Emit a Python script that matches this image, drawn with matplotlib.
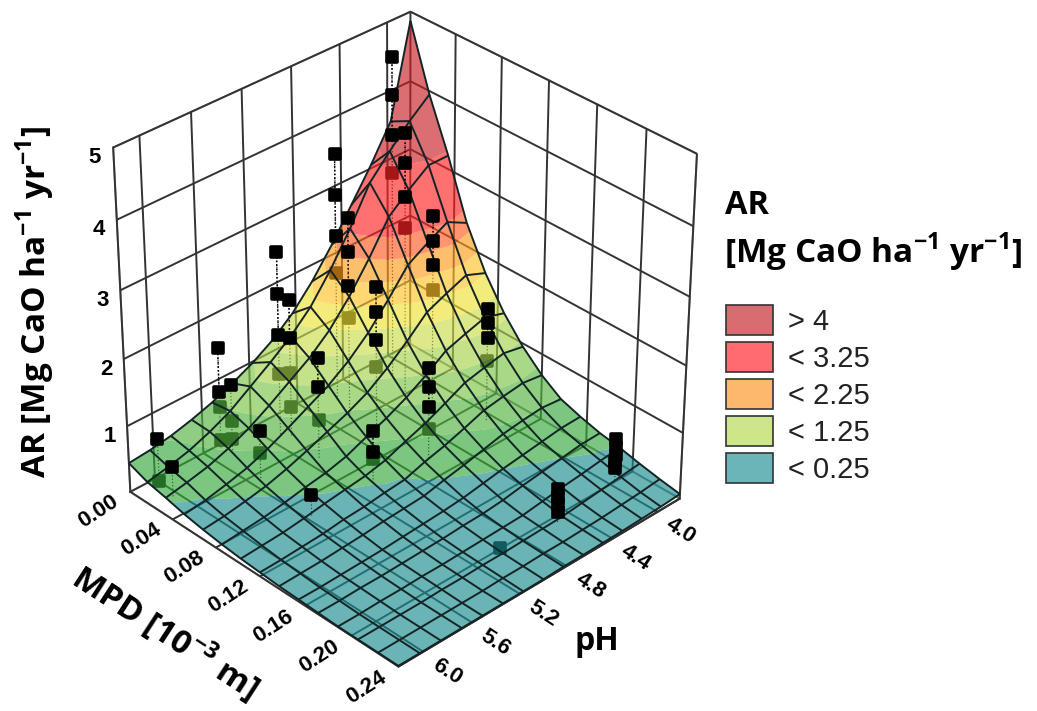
import numpy as np
import matplotlib
matplotlib.use('Agg')
import matplotlib.pyplot as plt
from matplotlib.markers import MarkerStyle
from matplotlib.patches import Patch, PathPatch
from matplotlib.path import Path
from matplotlib.transforms import Affine2D
from mpl_toolkits.mplot3d import proj3d

plt.rcParams['mathtext.fontset']='custom'
plt.rcParams['mathtext.bf']='Open Sans:bold'
plt.rcParams['mathtext.rm']='Open Sans:bold'

mpd_ticks=[0.00,0.04,0.08,0.12,0.16,0.20,0.24]
ph_ticks=[4.0,4.4,4.8,5.2,5.6,6.0]
ar_ticks=[1,2,3,4,5]
legend_labels=['> 4','< 3.25','< 2.25','< 1.25','< 0.25']
legend_colors=['#D96C70','#FF6B6E','#FDB96B','#CDE68A','#6BB5B8']
band_edges=[-1,.25,.5,.75,1.0,1.25,1.5,1.75,2.0,2.25,2.5,3.25,9]
band_colors=['#6AB5B7','#7CC87F','#8FCF82','#A9D987','#C5E28A','#DDE98A','#F4EC7D','#FFD873','#FDBF6C','#FF9570','#FF7070','#DC6E72']

surface_mpd=np.linspace(0,.24,15)
surface_ph=np.linspace(3.8,6.2,15)
surface_ar=np.array([
[4.87,3.95,3.2,2.35,1.75,1.3,.95,.68,.48,.38,.30,.25,.18,.12,.07],
[3.55,3.70,3.20,2.51,1.87,1.39,1.01,.72,.51,.37,.29,.22,.15,.09,.05],
[3.05,3.40,2.98,2.35,1.75,1.30,.95,.68,.48,.33,.25,.18,.12,.07,.04],
[2.6,3.08,2.73,2.17,1.62,1.20,.88,.63,.44,.29,.21,.15,.09,.05,.03],
[2.15,2.55,2.26,1.80,1.34,.99,.73,.52,.37,.25,.17,.11,.06,.04,.025],
[1.75,2.08,1.84,1.46,1.09,0.81,0.59,0.42,0.3,0.2,0.12,0.07,0.05,0.03,0.02],
[1.42,1.68,1.49,1.19,0.88,0.66,0.48,0.34,0.24,0.15,0.09,0.06,0.04,0.03,0.02],
[1.17,1.39,1.23,0.98,0.73,0.54,0.36,0.24,0.17,0.12,0.08,0.05,0.03,0.02,0.01],
[0.98,1.16,1.03,0.82,0.61,0.41,0.29,0.21,0.15,0.1,0.06,0.04,0.03,0.02,0.01],
[0.83,0.95,0.83,0.66,0.49,0.33,0.25,0.17,0.13,0.08,0.05,0.03,0.02,0.01,0.01],
[0.7,0.74,0.65,0.51,0.38,0.28,0.21,0.15,0.1,0.06,0.04,0.03,0.02,0.01,0.01],
[0.6,0.59,0.51,0.39,0.29,0.22,0.16,0.11,0.08,0.05,0.03,0.02,0.01,0.01,0.01],
[0.52,0.47,0.4,0.31,0.23,0.17,0.12,0.09,0.06,0.04,0.03,0.02,0.01,0.01,0.01],
[0.47,0.39,0.33,0.24,0.18,0.14,0.1,0.07,0.05,0.03,0.02,0.01,0.01,0.01,0.01],
[0.44,0.33,0.27,0.2,0.15,0.11,0.08,0.06,0.04,0.03,0.02,0.01,0.01,0.01,0.01]])

stem_mpd=[.018,.038,.015,.035,.018,.024,.060,.061,.054,.003,.013,.045,.009,.022,.097,.096,.102,.097,.199,.205,.199]
stem_ph=[4.13,4.21,4.59,4.67,5.11,5.07,4.67,4.19,5.11,5.48,5.47,5.52,6.04,6.04,5.05,5.56,4.62,4.06,3.95,4.52,4.96]
ar_above=[[4.76,4.21,3.64],[3.90,3.46,2.97],[3.71,3.12,2.51],[3.03,2.53,2.02],[2.76,2.14,1.52],[2.06,1.50],[2.23,1.86,1.44],
[2.88,2.51,2.15],[1.52,1.08],[1.53,.86],[1.06],[.73],[.74],[.45],[.80,.48],[.31],[1.39,1.09,.79],[1.71,1.50,1.27],
[.64,.52,.40,.29,.20],[.51,.39,.27,.15],[]]
ar_below=[[3.07],[2.50],[1.96],[1.54],[.93],[.96,.44],[1.03],[1.77],[.59],[.63,.12],[.50,.22],[.39],[.10],[],[.36],[],[.45],[.92],[],[],[0.0]]

ALPHA=.65
def solid(c):
    r=np.array(matplotlib.colors.to_rgb(c))
    return (*np.clip((r-(1-ALPHA))/ALPHA,0,1),ALPHA)

fig=plt.figure(figsize=(10.37,7.11),dpi=100)
ax=fig.add_axes([(163-123.46)/1037,17.73/711,711/1037,1],projection='3d',computed_zorder=False)
ax.set_xlim(0,.24);ax.set_ylim(6.2,3.8);ax.set_zlim(0,5)
ax.view_init(elev=33.19,azim=-43.786)
ax.set_box_aspect((1,1,1.0275),zoom=.9555)
ax.set_proj_type('persp',focal_length=.9645)
ax.patch.set_alpha(0)

GC='#333333'
for ax_ in (ax.xaxis,ax.yaxis,ax.zaxis):
    ax_.pane.set_facecolor((1,1,1,0))
    ax_.pane.set_edgecolor(GC);ax_.pane.set_linewidth(1.4)
    ax_.line.set_color(GC);ax_.line.set_linewidth(1.4)
    ax_._axinfo['grid'].update(color=GC,linewidth=1.4)
    ax_._axinfo['tick'].update(inward_factor=0,outward_factor=0)
TF=dict(fontfamily='Liberation Sans',fontweight='bold')
ax.set_xticks(mpd_ticks);ax.set_xticklabels(['%.2f'%v for v in mpd_ticks],fontsize=16,rotation=33,ha='center',va='center',**TF)
ax.set_yticks(ph_ticks);ax.set_yticklabels(['%.1f'%v for v in ph_ticks],fontsize=16,rotation=-33,ha='center',va='center',**TF)
ax.set_zticks(ar_ticks);ax.set_zticklabels([str(v) for v in ar_ticks],fontsize=16,**TF)
ax.zaxis.set_ticks_position('upper')
ax.tick_params(axis='x',pad=4);ax.tick_params(axis='y',pad=4);ax.tick_params(axis='z',pad=6)
for axis,(dx,dy) in ((ax.xaxis,(-19,2)),(ax.yaxis,(11,3)),(ax.zaxis,(12,0))):
    for tk in axis.get_major_ticks():
        tk.label1.set_transform(ax.transData+Affine2D().translate(dx,dy))
        tk.label1.set_transform=lambda *a:None

def clip(poly,lev,keep_above):
    out=[]
    n=len(poly)
    for i in range(n):
        a,b=poly[i],poly[(i+1)%n]
        ia=(a[2]>=lev) if keep_above else (a[2]<=lev)
        ib=(b[2]>=lev) if keep_above else (b[2]<=lev)
        if ia: out.append(a)
        if ia!=ib:
            f=(lev-a[2])/(b[2]-a[2])
            out.append(tuple(a[k]+f*(b[k]-a[k]) for k in range(3)))
    return out

M=ax.get_proj()
band_polys=[[] for _ in band_colors]
for i in range(14):
    for j in range(14):
        p=[(surface_mpd[j+dj],surface_ph[i+di],surface_ar[i+di,j+dj]) for di,dj in ((0,0),(0,1),(1,1),(1,0))]
        for tri in ([p[0],p[1],p[2]],[p[0],p[2],p[3]]):
            for b in range(len(band_colors)):
                q=clip(tri,band_edges[b],True)
                if len(q)>=3: q=clip(q,band_edges[b+1],False)
                if len(q)>=3: band_polys[b].append(q)
for b,col in enumerate(band_colors):
    verts=[];codes=[]
    for q in band_polys[b]:
        q=np.array(q)
        xs,ys,_=proj3d.proj_transform(q[:,0],q[:,1],q[:,2],M)
        xy=np.c_[xs,ys]
        area=np.sum(xy[:,0]*np.roll(xy[:,1],-1)-np.roll(xy[:,0],-1)*xy[:,1])
        if area<0: xy=xy[::-1]
        verts+=list(map(tuple,xy))+[tuple(xy[0])]
        codes+=[Path.MOVETO]+[Path.LINETO]*(len(xy)-1)+[Path.CLOSEPOLY]
    if verts:
        pp=PathPatch(Path(verts,codes),facecolor=solid(col),edgecolor='none',linewidth=0,zorder=3)
        pp.do_3d_projection=lambda: 0
        ax.add_patch(pp)

MX,MY=np.meshgrid(surface_mpd,surface_ph)
ax.plot_wireframe(MX,MY,surface_ar,rstride=1,cstride=1,color='#142426',linewidth=1.4,zorder=4)

st=MarkerStyle('s',joinstyle='round')
MK=dict(ls='none',marker=st,ms=7.5,mew=2.6,color='k')
for m,ph,za,zb in zip(stem_mpd,stem_ph,ar_above,ar_below):
    allz=za+zb
    ax.plot([m,m],[ph,ph],[0,max(allz)],color='k',lw=.9,ls=':',zorder=2)
    if zb: ax.plot([m]*len(zb),[ph]*len(zb),zb,zorder=2,**MK)
    if za:
        ax.plot([m,m],[ph,ph],[min(za),max(za)],color='k',lw=1.1,ls=':',zorder=5)
        ax.plot([m]*len(za),[ph]*len(za),za,zorder=5,**MK)

LB=dict(family='Open Sans',weight='bold',color='k')
fig.text(35/1037,1-302/711,r'AR [Mg CaO ha$^{\mathbf{-1}}$ yr$^{\mathbf{-1}}$]',rotation=90,ha='center',va='center',fontsize=24,**LB)
fig.text(165/1037,1-632/711,r'MPD [10$^{\mathbf{-3}}$ m]',rotation=-33,ha='center',va='center',fontsize=24,rotation_mode='anchor',**LB)
fig.text(597/1037,1-642/711,'pH',ha='center',va='center',fontsize=23,**LB)
fig.text(725/1037,1-205/711,'AR',ha='left',va='center',fontsize=23.5,**LB)
fig.text(724/1037,1-252/711,r'[Mg CaO ha$^{\mathbf{-1}}$ yr$^{\mathbf{-1}}$]',ha='left',va='center',fontsize=24,**LB)
h=[Patch(facecolor=c,edgecolor='#333333',linewidth=1.2) for c in legend_colors]
fig.legend(h,legend_labels,loc='upper left',bbox_to_anchor=(726/1037,1-305/711),frameon=False,
           prop=dict(family='Liberation Sans',size=21),handlelength=1.62,handleheight=1.215,labelspacing=.207,handletextpad=.5,borderpad=0,borderaxespad=0,labelcolor='#222222')
fig.savefig('out.png',dpi=100)
